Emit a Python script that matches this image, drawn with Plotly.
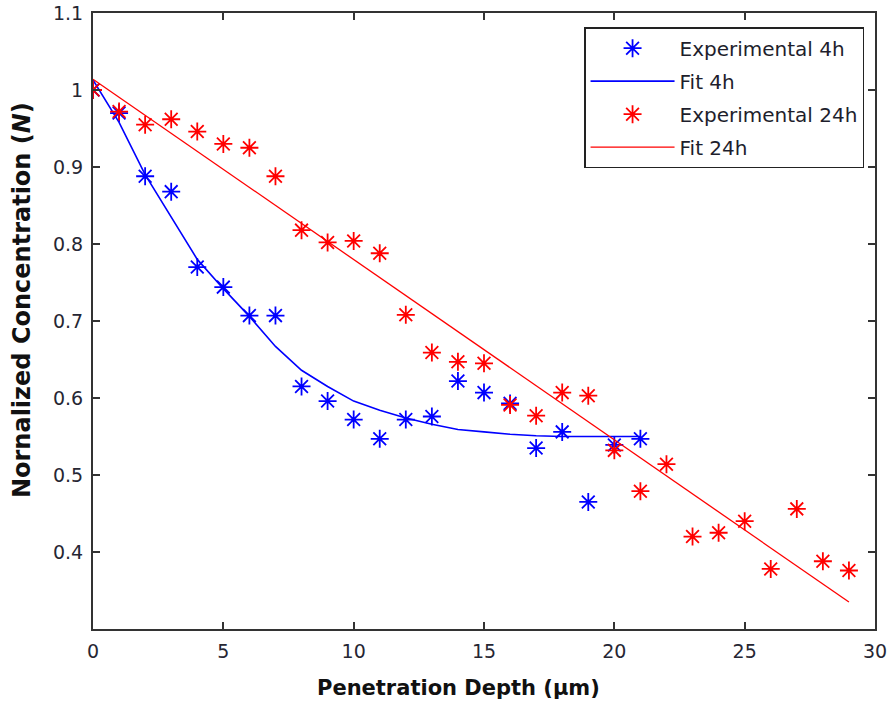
import plotly.graph_objects as go

# ---- data ----
depth_exp4 = list(range(0, 22))
conc_exp4 = [1.0, 0.970, 0.888, 0.868, 0.770, 0.744, 0.707, 0.707, 0.615, 0.596,
             0.572, 0.547, 0.572, 0.576, 0.622, 0.607, 0.593, 0.535, 0.556, 0.465,
             0.539, 0.547]

depth_fit4 = list(range(0, 22))
conc_fit4 = [1.013, 0.958, 0.890, 0.835, 0.780, 0.742, 0.706, 0.667, 0.636, 0.615,
             0.596, 0.584, 0.574, 0.566, 0.559, 0.556, 0.553, 0.551, 0.550, 0.550,
             0.550, 0.550]

depth_exp24 = list(range(0, 30))
conc_exp24 = [1.0, 0.972, 0.955, 0.962, 0.946, 0.930, 0.925, 0.888, 0.818, 0.802,
              0.804, 0.788, 0.708, 0.659, 0.647, 0.645, 0.591, 0.577, 0.607, 0.603,
              0.532, 0.479, 0.514, 0.420, 0.425, 0.440, 0.378, 0.456, 0.388, 0.376]

depth_fit24 = [0, 29]
conc_fit24 = [1.014, 0.335]

x_ticks = [0, 5, 10, 15, 20, 25, 30]
y_ticks = [0.4, 0.5, 0.6, 0.7, 0.8, 0.9, 1.0, 1.1]
y_tick_labels = ["0.4", "0.5", "0.6", "0.7", "0.8", "0.9", "1", "1.1"]

series_names = ["Experimental 4h", "Fit 4h", "Experimental 24h", "Fit 24h"]
x_title = "<b>Penetration Depth (µm)</b>"
y_title = "<b>Nornalized Concentration (<i>N</i>)</b>"

BLUE = "#0000ff"
RED = "#ff0000"

fig = go.Figure()
fig.add_trace(go.Scatter(
    x=depth_exp4, y=conc_exp4, mode="markers", name=series_names[0], legendgroup="a",
    marker=dict(symbol="asterisk-open", size=15, color=BLUE,
                line=dict(color=BLUE, width=1.8))))
fig.add_trace(go.Scatter(
    x=depth_fit4, y=conc_fit4, mode="lines", name=series_names[1], legendgroup="b",
    line=dict(color=BLUE, width=1.6)))
fig.add_trace(go.Scatter(
    x=depth_exp24, y=conc_exp24, mode="markers", name=series_names[2], legendgroup="c",
    marker=dict(symbol="asterisk-open", size=15, color=RED,
                line=dict(color=RED, width=1.8))))
fig.add_trace(go.Scatter(
    x=depth_fit24, y=conc_fit24, mode="lines", name=series_names[3], legendgroup="d",
    line=dict(color=RED, width=1.3)))

tick_font = dict(family="DejaVu Sans, sans-serif", size=19, color="#262633")
title_font = dict(family="DejaVu Sans, sans-serif", size=21, color="#111111")

fig.add_annotation(text=x_title, xref="paper", yref="paper", x=0.4668, y=-0.0958,
                   xanchor="center", yanchor="middle", showarrow=False, font=title_font)
fig.add_annotation(text=y_title, xref="paper", yref="paper", x=-0.0908, y=0.534,
                   xanchor="center", yanchor="middle", showarrow=False, textangle=-90,
                   font=dict(family="DejaVu Sans, sans-serif", size=24, color="#111111"))

fig.update_layout(
    width=888, height=706,
    margin=dict(l=93, r=13, t=13, b=77),
    paper_bgcolor="white", plot_bgcolor="white",
    showlegend=True,
    legend=dict(
        x=0.986, y=0.977, xanchor="right", yanchor="top",
        bgcolor="white", bordercolor="#222222", borderwidth=1.5,
        font=dict(family="DejaVu Sans, sans-serif", size=20, color="#1e1e2c"),
        tracegroupgap=4, itemwidth=84,
    ),
    xaxis=dict(
        range=[0, 30], tickvals=x_ticks, ticks="inside", ticklen=7, tickwidth=1.5,
        tickcolor="#333333", showline=True, linecolor="#333333", linewidth=2,
        mirror="ticks", showgrid=False, zeroline=False, tickfont=tick_font,
        automargin=False, ticklabelstandoff=4, ticklabeloverflow="allow",
    ),
    yaxis=dict(
        range=[0.3, 1.1], tickvals=y_ticks, ticktext=y_tick_labels, ticks="inside",
        ticklen=7, tickwidth=1.5, tickcolor="#333333", showline=True,
        linecolor="#333333", linewidth=2, mirror="ticks", showgrid=False,
        zeroline=False, tickfont=tick_font, automargin=False, ticklabelstandoff=4,
        ticklabeloverflow="allow",
    ),
)

# remove the default 8px page margin so the 888x706 figure fills the window exactly
fig.write_html("out.html", config={"displayModeBar": False},
               post_script="document.body.style.margin='0';")
